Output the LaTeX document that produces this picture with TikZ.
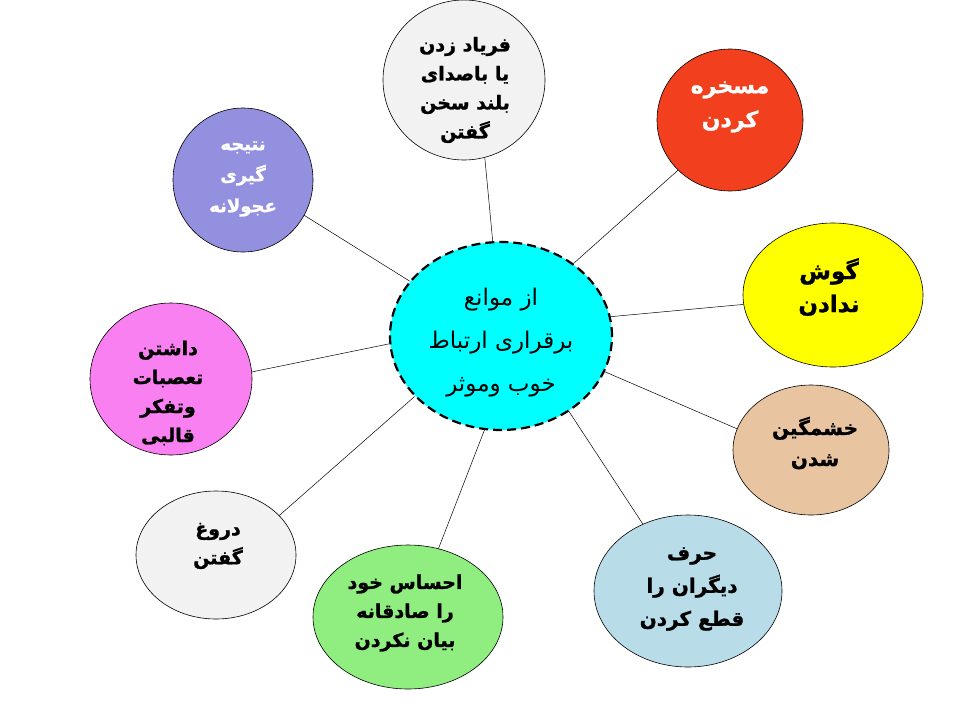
\documentclass[tikz,border=0pt]{standalone}
\usepackage{fontspec}
\usetikzlibrary{shapes.geometric}
\newfontfamily\farsi[Script=Arabic, BoldFeatures={FakeBold=1.2}]{DejaVu Sans}
\TeXXeTstate=1
\newcommand{\fa}[1]{\beginR #1\endR}
\definecolor{cgrey}{RGB}{242,242,242}
\definecolor{cred}{RGB}{242,64,30}
\definecolor{cpurple}{RGB}{148,144,224}
\definecolor{ccyan}{RGB}{0,255,255}
\definecolor{cyellow}{RGB}{255,255,0}
\definecolor{cpink}{RGB}{248,128,240}
\definecolor{ctan}{RGB}{232,196,160}
\definecolor{cgreen}{RGB}{144,238,128}
\definecolor{cblue}{RGB}{184,221,232}
\tikzset{
  bubble/.style={ellipse, draw=black, line width=0.6pt, inner sep=0pt},
  hub/.style={ellipse, draw=black, line width=2.2pt, dash pattern=on 9pt off 5pt, inner sep=0pt, fill=ccyan},
  txt/.style={align=center, font=\farsi\bfseries\fontsize{19}{29}\selectfont, inner sep=0pt},
  hubtxt/.style={align=center, font=\farsi\fontsize{23}{43}\selectfont, inner sep=0pt},
  link/.style={draw=black, line width=0.5pt}
}
\begin{document}
\begin{tikzpicture}[x=1pt,y=-1pt]
\fill[white] (0,0) rectangle (960,720);
\useasboundingbox (0,0) rectangle (960,720);
% ellipses
\node[hub, minimum width=222pt, minimum height=188pt] (c) at (501,336) {};
\node[bubble, fill=cgrey, minimum width=162pt, minimum height=160pt] (n1) at (464,80) {};
\node[bubble, fill=cred, minimum width=146pt, minimum height=142pt] (n2) at (730,120) {};
\node[bubble, fill=cyellow, minimum width=180pt, minimum height=144pt] (n3) at (833,295) {};
\node[bubble, fill=ctan, minimum width=156pt, minimum height=130pt] (n4) at (811,450) {};
\node[bubble, fill=cblue, minimum width=188pt, minimum height=152pt] (n5) at (688,591) {};
\node[bubble, fill=cgreen, minimum width=190pt, minimum height=144pt] (n6) at (408,617) {};
\node[bubble, fill=cgrey, minimum width=160pt, minimum height=128pt] (n7) at (216,555) {};
\node[bubble, fill=cpink, minimum width=162pt, minimum height=152pt] (n8) at (171,379) {};
\node[bubble, fill=cpurple, minimum width=140pt, minimum height=144pt] (n9) at (243,180) {};
% texts
\node[hubtxt] (t0) at (501,343) {\fa{از موانع}\\\fa{برقراری ارتباط}\\\fa{خوب وموثر}};
\node[txt] (t1) at (465,90) {\fa{فریاد زدن}\\\fa{یا باصدای}\\\fa{بلند سخن}\\\fa{گفتن}};
\node[txt, text=white, font=\farsi\bfseries\fontsize{22}{34}\selectfont] (t2) at (730,107) {\fa{مسخره}\\\fa{کردن}};
\node[txt, font=\farsi\bfseries\fontsize{23}{33}\selectfont] (t3) at (829,287) {\fa{گوش}\\\fa{ندادن}};
\node[txt, font=\farsi\bfseries\fontsize{20}{31}\selectfont] (t4) at (815,443) {\fa{خشمگین}\\\fa{شدن}};
\node[txt, font=\farsi\bfseries\fontsize{20}{33}\selectfont] (t5) at (692,589) {\fa{حرف}\\\fa{دیگران را}\\\fa{قطع کردن}};
\node[txt] (t6) at (405,613) {\fa{احساس خود}\\\fa{را صادقانه}\\\fa{بیان نکردن}};
\node[txt] (t7) at (218,546) {\fa{دروغ}\\\fa{گفتن}};
\node[txt] (t8) at (168,393) {\fa{داشتن}\\\fa{تعصبات}\\\fa{وتفکر}\\\fa{قالبی}};
\node[txt, text=white, font=\farsi\bfseries\fontsize{18}{31}\selectfont] (t9) at (243,179) {\fa{نتیجه}\\\fa{گیری}\\\fa{عجولانه}};
% links
\draw[link] (c.95) -- (n1.-75);
\draw[link] (c.45) -- (n2.224);
\draw[link] (c.10) -- (n3.186);
\draw[link] (c.-19) -- (n4.164);
\draw[link] (c.-48) -- (n5.124);
\draw[link] (c.-100) -- (n6.66);
\draw[link] (c.-145) -- (n7.32);
\draw[link] (c.184) -- (n8.5);
\draw[link] (c.149) -- (n9.-30);
\end{tikzpicture}
\end{document}
